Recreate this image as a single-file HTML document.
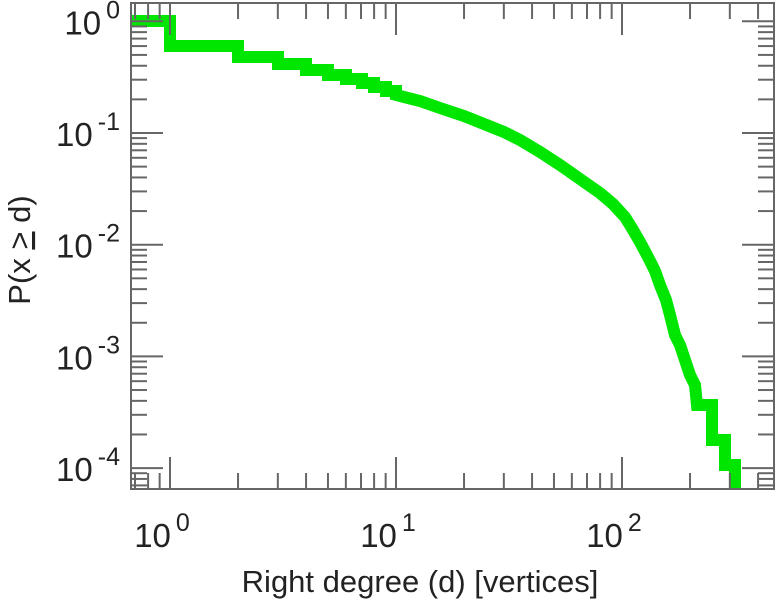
<!DOCTYPE html>
<html><head><style>body{margin:0;background:#fff}svg{display:block}</style></head><body>
<svg id="s" width="775" height="600" xmlns="http://www.w3.org/2000/svg" font-family="Liberation Sans, sans-serif">
<path id="curve" fill="none" stroke="#00e600" stroke-width="12" stroke-linejoin="miter" d=""/>
<g id="ax" stroke="#666" stroke-width="2" fill="none"></g>
<g id="lab" fill="#222" font-size="33"></g>
<text x="0" y="0" transform="translate(30,250) rotate(-90)" text-anchor="middle" font-size="31" fill="#222">P(x <tspan text-decoration="underline">&gt;</tspan> d)</text>
<text x="420" y="592" text-anchor="middle" font-size="31" fill="#222">Right degree (d) [vertices]</text>
</svg>
<script>
const L=131,R=774,T=3,B=489;
const X=v=>170+226*v, Y=v=>21.3-111.7*v;
const ns="http://www.w3.org/2000/svg";
const ax=document.getElementById('ax'),lab=document.getElementById('lab');
function ln(x1,y1,x2,y2){const e=document.createElementNS(ns,'line');e.setAttribute('x1',x1);e.setAttribute('y1',y1);e.setAttribute('x2',x2);e.setAttribute('y2',y2);ax.appendChild(e);}
for(let d=-1;d<=3;d++)for(let m=1;m<10;m++){const v=d+Math.log10(m);const x=X(v);if(x<L+1||x>R-1)continue;const len=m==1?32:16;ln(x,B,x,B-len);ln(x,T,x,T+len);}
for(let d=-5;d<=0;d++)for(let m=1;m<10;m++){const v=d+Math.log10(m);const y=Y(v);if(y<T+1||y>B-1)continue;const len=m==1?32:16;ln(L,y,L+len,y);ln(R,y,R-len,y);}
const r=document.createElementNS(ns,'rect');r.setAttribute('x',L);r.setAttribute('y',T);r.setAttribute('width',R-L);r.setAttribute('height',B-T);ax.appendChild(r);
function lbl(x,y,e,anchor){const t=document.createElementNS(ns,'text');t.setAttribute('x',x);t.setAttribute('y',y);t.setAttribute('text-anchor',anchor);t.innerHTML='10<tspan dx="5" dy="-16" font-size="25">'+e+'</tspan>';lab.appendChild(t);}
[0,1,2].forEach(d=>lbl(X(d)-8,547,d,'middle'));
[['0',0],['-1',-1],['-2',-2],['-3',-3],['-4',-4]].forEach(([s,v])=>lbl(120,Y(v)+13,s,'end'));
const steps=[[131,21],[170,21],[170,46],[238,46],[238,57],[278,57],[278,64],[306,64],[306,70],[328,70],[328,75],[346,75],[346,79],[362,79],[362,83],[374,83],[374,87],[386,87],[386,91],[396,91],[396,95]];
const smooth=[[420,101],[440,108],[464,116],[484,124],[504,132],[520,140],[540,152],[560,165],[580,179],[600,193],[613,204],[625,217],[633,230],[640,242],[648,257],[655,271],[660,285],[666,300],[670,315],[675,335],[680,345],[685,360],[690,375],[695,385],[697,405]];
const tail=[[712,405],[712,440],[725,440],[725,465],[735,465],[735,490]];
let d='M'+steps[0].join(' ');
for(let i=1;i<steps.length;i++){const[x,y]=steps[i];d+=' L'+x+' '+y;}
smooth.forEach(([x,y])=>d+=' L'+x+' '+y);
tail.forEach(([x,y])=>d+=' L'+x+' '+y);
document.getElementById('curve').setAttribute('d',d);
</script>
</body></html>
